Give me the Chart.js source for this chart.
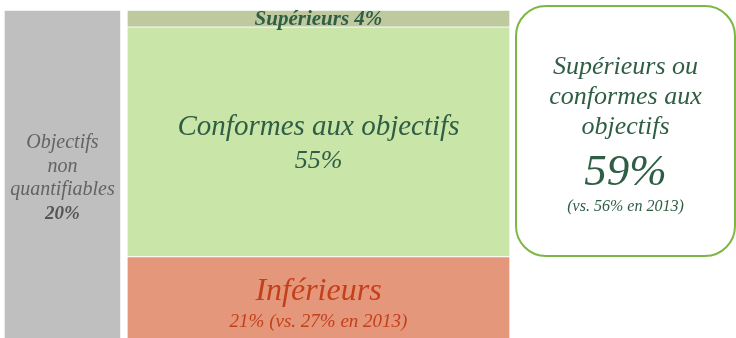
<!DOCTYPE html>
<html>
<head>
<meta charset="utf-8">
<script src="https://cdn.jsdelivr.net/npm/chart.js@4.4.1/dist/chart.umd.min.js"></script>
<style>
  html, body { margin: 0; padding: 0; background: #fff; }
  #wrap { width: 736px; height: 338px; }
</style>
</head>
<body>
<div id="wrap"><canvas id="objectifsChart" width="736" height="338"></canvas></div>
<script>
// part des entreprises selon l'atteinte de leurs objectifs
const columns = ["Objectifs non quantifiables", "Objectifs quantifiables"];
const columnShares = [20, 80];
const levels = ["Inférieurs", "Conformes aux objectifs", "Supérieurs"];
const levelShares = [21, 55, 4];
const inferieurs2013 = 27;
const combined2013 = 56;

const levelColors = ["#e4977b", "#c9e5a7", "#bec99d"];
const greyColor = "#bfbfbf";
const serif = "'Liberation Serif', 'DejaVu Serif', serif";

// horizontal extent of each column on the (hidden) x axis
const spans = [[0, 23.1], [24.3, 100]];
const mid = s => (s[0] + s[1]) / 2;
const columnTotal = levelShares.reduce((a, b) => a + b, 0);
const combinedShare = levelShares[1] + levelShares[2];

function spanWidth(i) {
    return ctx => {
        const x = ctx.chart.scales.x;
        if (!x) return 10;
        return x.getPixelForValue(spans[i][1]) - x.getPixelForValue(spans[i][0]);
    };
}

const datasets = [{
    label: columns[0],
    data: [{ x: mid(spans[0]), y: columnTotal }],
    backgroundColor: greyColor,
    borderColor: "#ffffff",
    borderWidth: 1,
    barThickness: spanWidth(0)
}];
levels.forEach((lvl, i) => {
    datasets.push({
        label: lvl,
        data: [{ x: mid(spans[1]), y: levelShares[i] }],
        backgroundColor: levelColors[i],
        borderColor: "#ffffff",
        borderWidth: 1,
        barThickness: spanWidth(1)
    });
});

function drawLines(ctx, lines, cx) {
    lines.forEach(l => {
        ctx.font = l.font;
        ctx.fillStyle = l.color;
        ctx.fillText(l.text, cx, l.y);
    });
}

const labelPlugin = {
    id: "blockLabels",
    afterDatasetsDraw(chart) {
        const ctx = chart.ctx;
        const area = chart.chartArea;
        ctx.save();
        ctx.textAlign = "center";
        ctx.textBaseline = "middle";

        // colonne grise
        const grey = chart.getDatasetMeta(0).data[0];
        const gy = (area.top + area.bottom) / 2;
        const gfont = "italic 20px " + serif;
        drawLines(ctx, [
            { text: "Objectifs", y: gy - 31, font: gfont, color: "#636363" },
            { text: "non", y: gy - 7, font: gfont, color: "#636363" },
            { text: "quantifiables", y: gy + 16, font: gfont, color: "#636363" },
            { text: columnShares[0] + "%", y: gy + 40, font: "italic bold 19px " + serif, color: "#555555" }
        ], grey.x);

        const inf = chart.getDatasetMeta(1).data[0];
        const conf = chart.getDatasetMeta(2).data[0];
        const sup = chart.getDatasetMeta(3).data[0];

        drawLines(ctx, [
            { text: levels[2] + " " + levelShares[2] + "%", y: (sup.y + sup.base) / 2 + 1, font: "italic bold 21px " + serif, color: "#2f5e45" }
        ], sup.x);

        const cy = (conf.y + conf.base) / 2;
        drawLines(ctx, [
            { text: levels[1], y: cy - 14, font: "italic 29px " + serif, color: "#2f5e45" },
            { text: levelShares[1] + "%", y: cy + 20, font: "italic 26px " + serif, color: "#2f5e45" }
        ], conf.x);

        drawLines(ctx, [
            { text: levels[0], y: inf.y + 35, font: "italic 32px " + serif, color: "#c4401a" },
            { text: levelShares[0] + "% (vs. " + inferieurs2013 + "% en 2013)", y: inf.y + 65, font: "italic 19px " + serif, color: "#c4401a" }
        ], inf.x);

        // encadré de synthèse
        const bx = area.right + 6, by = 6, bw = chart.width - bx - 1, bh = 250;
        ctx.beginPath();
        ctx.roundRect(bx, by, bw, bh, 30);
        ctx.lineWidth = 2;
        ctx.strokeStyle = "#7cb744";
        ctx.stroke();
        const bcx = bx + bw / 2;
        const bfont = "italic 26px " + serif;
        drawLines(ctx, [
            { text: "Supérieurs ou", y: 67, font: bfont, color: "#2f5e45" },
            { text: "conformes aux", y: 97, font: bfont, color: "#2f5e45" },
            { text: "objectifs", y: 127, font: bfont, color: "#2f5e45" },
            { text: combinedShare + "%", y: 173, font: "italic 45px " + serif, color: "#2f5e45" },
            { text: "(vs. " + combined2013 + "% en 2013)", y: 207, font: "italic 16px " + serif, color: "#2f5e45" }
        ], bcx);
        ctx.restore();
    }
};

new Chart(document.getElementById("objectifsChart"), {
    type: "bar",
    data: { datasets: datasets },
    options: {
        responsive: false,
        devicePixelRatio: 1,
        animation: false,
        layout: { padding: { left: 4, right: 226, top: 10, bottom: 0 } },
        plugins: { legend: { display: false }, tooltip: { enabled: false } },
        scales: {
            x: { type: "linear", min: 0, max: 100, stacked: true, offset: false, grid: { offset: false }, display: false },
            // the bottom of the last block runs past the frame
            y: { min: 1.5, max: columnTotal, stacked: true, display: false }
        }
    },
    plugins: [labelPlugin]
});
</script>
</body>
</html>
